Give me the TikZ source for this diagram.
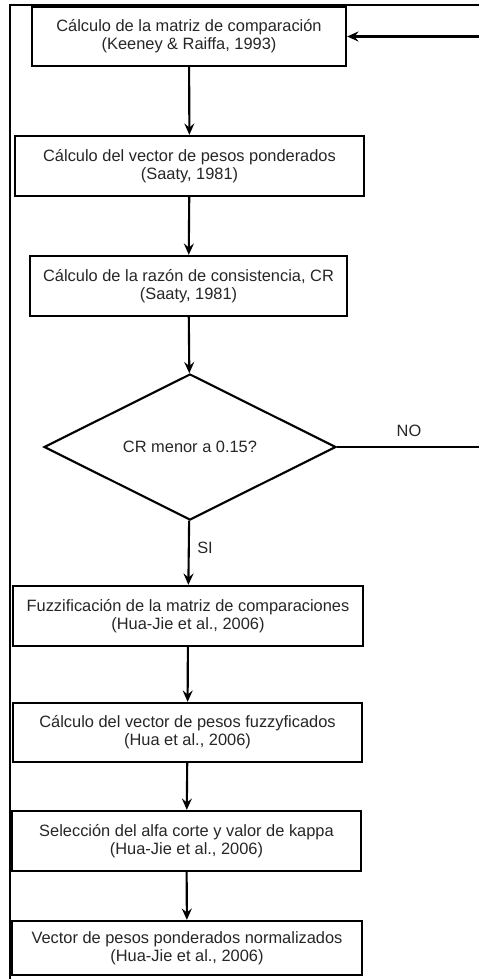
\documentclass[tikz,border=0pt]{standalone}
\usepackage{fontspec}
\setmainfont{Liberation Sans}
\usetikzlibrary{arrows.meta,positioning,shapes.geometric}

\begin{document}
\begin{tikzpicture}[
  x=0.03cm, y=-0.03cm,
  every node/.style={font=\fontsize{14}{15.6}\selectfont, text=black!85},
  stepbox/.style={
    rectangle,
    draw=black,
    line width=2pt,
    align=center,
    inner sep=0pt,
    fill=white
  },
  decision/.style={
    diamond,
    draw=black,
    line width=1.8pt,
    align=center,
    inner sep=0pt,
    aspect=2,
    minimum width=8.76cm,
    minimum height=4.38cm
  },
  line/.style={-{Stealth[length=3.4mm, width=3mm, inset=1.2mm]}, line width=1.8pt}
]

\clip (0,0) rectangle (479,979);

% outer frame (cut by the page)
\coordinate (frame) at (10,5);
\draw[line width=2pt] (frame) rectangle (520,1020);

\node[stepbox, minimum width=9.42cm, minimum height=1.77cm] (s1) at (189,36.5)
  {Cálculo de la matriz de comparación\\(Keeney \& Raiffa, 1993)};
\node[stepbox, minimum width=10.47cm, minimum height=1.8cm] (s2) at (189.5,166)
  {Cálculo del vector de pesos ponderados\\(Saaty, 1981)};
\node[stepbox, minimum width=9.51cm, minimum height=1.8cm] (s3) at (188.5,286)
  {Cálculo de la razón de consistencia, CR\\(Saaty, 1981)};
\node[decision] (cr) at (190,447) {CR menor a 0.15?};
\node[stepbox, minimum width=10.5cm, minimum height=1.8cm] (s4) at (188,616)
  {Fuzzificación de la matriz de comparaciones\\(Hua-Jie et al., 2006)};
\node[stepbox, minimum width=10.47cm, minimum height=1.77cm] (s5) at (187.5,732.5)
  {Cálculo del vector de pesos fuzzyficados\\(Hua et al., 2006)};
\node[stepbox, minimum width=10.47cm, minimum height=1.8cm] (s6) at (186.5,841)
  {Selección del alfa corte y valor de kappa\\(Hua-Jie et al., 2006)};
\node[stepbox, minimum width=10.5cm, minimum height=1.62cm] (s7) at (187,948)
  {Vector de pesos ponderados normalizados\\(Hua-Jie et al., 2006)};

\node (no) at (409,431) {NO};
\node (si) at (205,548) {SI};

\coordinate (back) at (500,447);

\draw[line] (s1) -- (s2);
\draw[line] (s2) -- (s3);
\draw[line] (s3) -- (cr);
\draw[line] (cr) -- (s4);
\draw[line] (s4) -- (s5);
\draw[line] (s5) -- (s6);
\draw[line] (s6) -- (s7);
\draw[line] (cr.east) -- (back) |- (s1.east);

\end{tikzpicture}
\end{document}
